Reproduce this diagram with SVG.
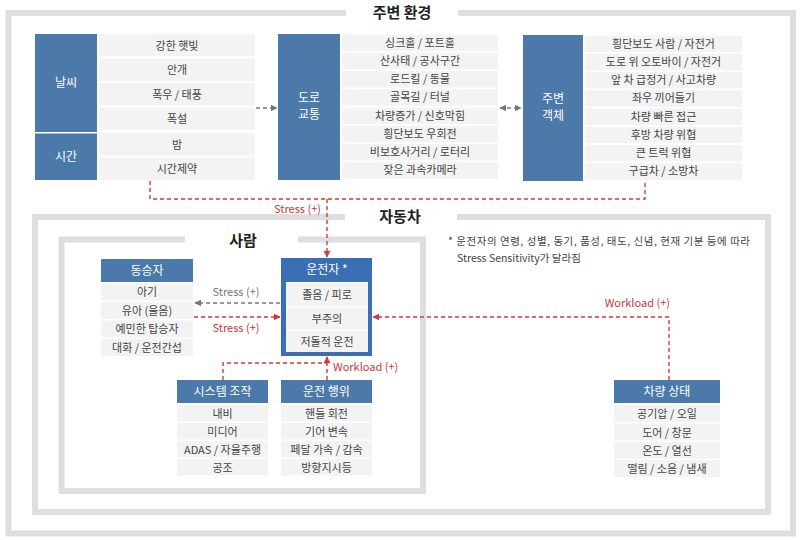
<svg xmlns="http://www.w3.org/2000/svg" width="800" height="540" viewBox="0 0 800 540">
<defs>
<style>
text{font-family:"Noto Sans CJK KR","Noto Sans",sans-serif;}
.frame{fill:none;stroke:#dedede;stroke-width:6;}
.title{font-size:15px;font-weight:bold;fill:#222;text-anchor:middle;}
.cat{fill:#4a79aa;}
.cattxt{font-size:12px;fill:#fff;text-anchor:middle;}
.row{fill:#f3f3f3;}
.item{font-size:11px;fill:#444;text-anchor:middle;}
.red{fill:none;stroke:#d23a3a;stroke-width:1.4;stroke-dasharray:4 3;}
.gray{fill:none;stroke:#777;stroke-width:1.4;stroke-dasharray:4 3;}
.rlab{font-size:11px;fill:#c8383a;}
.glab{font-size:11px;fill:#777;}
.note{font-size:10.5px;fill:#444;}
</style>
<marker id="ar" viewBox="0 0 10 10" refX="9" refY="5" markerWidth="5" markerHeight="5" orient="auto-start-reverse"><path d="M0,0 L10,5 L0,10 z" fill="#d23a3a"/></marker>
<marker id="ag" viewBox="0 0 10 10" refX="9" refY="5" markerWidth="5" markerHeight="5" orient="auto-start-reverse"><path d="M0,0 L10,5 L0,10 z" fill="#777"/></marker>
</defs>
<rect width="800" height="540" fill="#fff"/>

<g id="frames">
<path class="frame" d="M346,13 H8.5 V533.5 H793 V13 H458"/>
<text class="title" x="402" y="18">주변 환경</text>
<path class="frame" d="M345,217 H35 V512 H768 V217 H457"/>
<text class="title" x="400" y="222">자동차</text>
<path class="frame" d="M185,239.5 H61.5 V491 H423 V239.5 H298"/>
<text class="title" x="243" y="246">사람</text>
</g>

<g id="weather-time">
<rect class="cat" x="35" y="34" width="62" height="98"/>
<text class="cattxt" x="66" y="87">날씨</text>
<rect class="cat" x="35" y="133.5" width="62" height="46.5"/>
<text class="cattxt" x="66" y="161">시간</text>
<rect class="row" x="99" y="34" width="156" height="22.5"/><text class="item" x="177" y="49.5">강한 햇빛</text>
<rect class="row" x="99" y="58.5" width="156" height="22.5"/><text class="item" x="177" y="74">안개</text>
<rect class="row" x="99" y="83" width="156" height="22.5"/><text class="item" x="177" y="98.5">폭우 / 태풍</text>
<rect class="row" x="99" y="107.5" width="156" height="22.5"/><text class="item" x="177" y="123">폭설</text>
<rect class="row" x="99" y="133" width="156" height="22.5"/><text class="item" x="177" y="148.5">밤</text>
<rect class="row" x="99" y="157.5" width="156" height="22.5"/><text class="item" x="177" y="173">시간제약</text>
</g>

<g id="road-traffic">
<rect class="cat" x="278" y="34" width="62" height="146"/>
<text class="cattxt" x="309" y="102">도로</text>
<text class="cattxt" x="309" y="119">교통</text>
<rect class="row" x="342" y="34.5" width="156" height="16.5"/><text class="item" x="420" y="46.5">싱크홀 / 포트홀</text>
<rect class="row" x="342" y="52.75" width="156" height="16.5"/><text class="item" x="420" y="64.75">산사태 / 공사구간</text>
<rect class="row" x="342" y="71" width="156" height="16.5"/><text class="item" x="420" y="83">로드킬 / 동물</text>
<rect class="row" x="342" y="89.25" width="156" height="16.5"/><text class="item" x="420" y="101.25">골목길 / 터널</text>
<rect class="row" x="342" y="107.5" width="156" height="16.5"/><text class="item" x="420" y="119.5">차량증가 / 신호막힘</text>
<rect class="row" x="342" y="125.75" width="156" height="16.5"/><text class="item" x="420" y="137.75">횡단보도 우회전</text>
<rect class="row" x="342" y="144" width="156" height="16.5"/><text class="item" x="420" y="156">비보호사거리 / 로터리</text>
<rect class="row" x="342" y="162.25" width="156" height="16.5"/><text class="item" x="420" y="174.25">잦은 과속카메라</text>
</g>

<g id="surrounding-objects">
<rect class="cat" x="523" y="35" width="60" height="146"/>
<text class="cattxt" x="553" y="103">주변</text>
<text class="cattxt" x="553" y="120">객체</text>
<rect class="row" x="585" y="35.5" width="157" height="16.5"/><text class="item" x="663.5" y="47.5">횡단보도 사람 / 자전거</text>
<rect class="row" x="585" y="53.75" width="157" height="16.5"/><text class="item" x="663.5" y="65.75">도로 위 오토바이 / 자전거</text>
<rect class="row" x="585" y="72" width="157" height="16.5"/><text class="item" x="663.5" y="84">앞 차 급정거 / 사고차량</text>
<rect class="row" x="585" y="90.25" width="157" height="16.5"/><text class="item" x="663.5" y="102.25">좌우 끼어들기</text>
<rect class="row" x="585" y="108.5" width="157" height="16.5"/><text class="item" x="663.5" y="120.5">차량 빠른 접근</text>
<rect class="row" x="585" y="126.75" width="157" height="16.5"/><text class="item" x="663.5" y="138.75">후방 차량 위협</text>
<rect class="row" x="585" y="145" width="157" height="16.5"/><text class="item" x="663.5" y="157">큰 트럭 위협</text>
<rect class="row" x="585" y="163.25" width="157" height="16.5"/><text class="item" x="663.5" y="175.25">구급차 / 소방차</text>
</g>

<g id="passenger">
<rect class="cat" x="101" y="259" width="92" height="23"/>
<text class="cattxt" x="147" y="275">동승자</text>
<rect class="row" x="101" y="283.5" width="92" height="17"/><text class="item" x="147" y="296">아기</text>
<rect class="row" x="101" y="302" width="92" height="17"/><text class="item" x="147" y="314.5">유아 (울음)</text>
<rect class="row" x="101" y="320.5" width="92" height="17"/><text class="item" x="147" y="333">예민한 탑승자</text>
<rect class="row" x="101" y="339" width="92" height="17"/><text class="item" x="147" y="351.5">대화 / 운전간섭</text>
</g>

<g id="driver">
<rect x="281" y="258" width="91" height="98" fill="#3b6fb5"/>
<rect x="286" y="282" width="82" height="70" fill="#fff"/>
<text class="cattxt" x="327" y="274">운전자 *</text>
<rect class="row" x="286" y="283" width="82" height="23"/><text class="item" x="327" y="298.5">졸음 / 피로</text>
<rect class="row" x="286" y="307.5" width="82" height="22"/><text class="item" x="327" y="322.5">부주의</text>
<rect class="row" x="286" y="331" width="82" height="21"/><text class="item" x="327" y="346">저돌적 운전</text>
</g>

<g id="system-operation">
<rect class="cat" x="177" y="380" width="91" height="23"/>
<text class="cattxt" x="222.5" y="396">시스템 조작</text>
<rect class="row" x="177" y="405" width="91" height="16.5"/><text class="item" x="222.5" y="417.5">내비</text>
<rect class="row" x="177" y="423" width="91" height="16.5"/><text class="item" x="222.5" y="435.5">미디어</text>
<rect class="row" x="177" y="441" width="91" height="16.5"/><text class="item" x="222.5" y="453.5">ADAS / 자율주행</text>
<rect class="row" x="177" y="459" width="91" height="16.5"/><text class="item" x="222.5" y="471.5">공조</text>
</g>

<g id="driving-action">
<rect class="cat" x="281" y="380" width="91" height="23"/>
<text class="cattxt" x="326.5" y="396">운전 행위</text>
<rect class="row" x="281" y="405" width="91" height="16.5"/><text class="item" x="326.5" y="417.5">핸들 회전</text>
<rect class="row" x="281" y="423" width="91" height="16.5"/><text class="item" x="326.5" y="435.5">기어 변속</text>
<rect class="row" x="281" y="441" width="91" height="16.5"/><text class="item" x="326.5" y="453.5">페달 가속 / 감속</text>
<rect class="row" x="281" y="459" width="91" height="16.5"/><text class="item" x="326.5" y="471.5">방향지시등</text>
</g>

<g id="vehicle-state">
<rect class="cat" x="614" y="380" width="106" height="23"/>
<text class="cattxt" x="667" y="396">차량 상태</text>
<rect class="row" x="614" y="405" width="106" height="17"/><text class="item" x="667" y="418">공기압 / 오일</text>
<rect class="row" x="614" y="423.5" width="106" height="17"/><text class="item" x="667" y="436.5">도어 / 창문</text>
<rect class="row" x="614" y="442" width="106" height="17"/><text class="item" x="667" y="455">온도 / 열선</text>
<rect class="row" x="614" y="460" width="106" height="17"/><text class="item" x="667" y="473">떨림 / 소음 / 냄새</text>
</g>

<g id="note">
<text class="note" x="448" y="245" textLength="302" lengthAdjust="spacing">* 운전자의 연령, 성별, 동기, 품성, 태도, 신념, 현재 기분 등에 따라</text>
<text class="note" x="457" y="262">Stress Sensitivity가 달라짐</text>
</g>

<g id="connectors">
<path class="gray" d="M256,108 H277" marker-end="url(#ag)"/>
<path class="gray" d="M500,108 H521" marker-start="url(#ag)" marker-end="url(#ag)"/>
<path class="red" d="M150,181 V199 H645 V181"/>
<path class="red" d="M327,199 V257" marker-end="url(#ar)"/>
<text class="rlab" x="321" y="213" text-anchor="end">Stress (+)</text>
<path class="gray" d="M280,303 H195" marker-end="url(#ag)"/>
<text class="glab" x="236" y="296" text-anchor="middle">Stress (+)</text>
<path class="red" d="M194,317 H280" marker-end="url(#ar)"/>
<text class="rlab" x="236" y="332" text-anchor="middle">Stress (+)</text>
<path class="red" d="M669,380 V317 H373" marker-end="url(#ar)"/>
<text class="rlab" x="670" y="307" text-anchor="end">Workload (+)</text>
<path class="red" d="M223,380 V363 H327"/>
<path class="red" d="M327,380 V357" marker-end="url(#ar)"/>
<text class="rlab" x="333" y="371">Workload (+)</text>
</g>
</svg>
